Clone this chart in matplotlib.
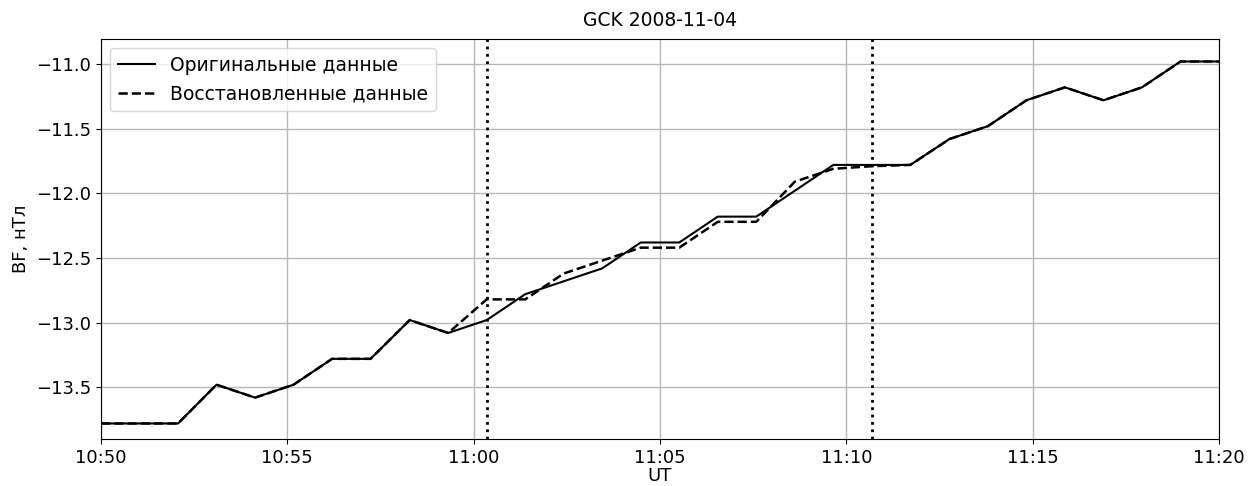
import matplotlib
matplotlib.use("Agg")
import matplotlib.pyplot as plt
import matplotlib.dates as mdates
import numpy as np
from datetime import datetime

plt.rcParams["font.size"] = 13

# Моменты измерений (UT), 2008-11-04
times_str = ["10:50:00", "10:51:02", "10:52:04", "10:53:06", "10:54:08", "10:55:10",
             "10:56:12", "10:57:14", "10:58:17", "10:59:19", "11:00:21", "11:01:23",
             "11:02:25", "11:03:27", "11:04:29", "11:05:31", "11:06:33", "11:07:35",
             "11:08:37", "11:09:39", "11:10:41", "11:11:43", "11:12:46", "11:13:48",
             "11:14:50", "11:15:52", "11:16:54", "11:17:56", "11:18:58", "11:20:00"]

# Исходные данные BF, нТл
bf_orig = [-13.78, -13.78, -13.78, -13.48, -13.58, -13.48, -13.28, -13.28, -12.98, -13.08,
           -12.98, -12.78, -12.68, -12.58, -12.38, -12.38, -12.18, -12.18, -11.98, -11.78,
           -11.78, -11.78, -11.58, -11.48, -11.28, -11.18, -11.28, -11.18, -10.98, -10.98]

# Восстановленные данные BF, нТл
bf_rest = [-13.78, -13.78, -13.78, -13.48, -13.58, -13.48, -13.28, -13.28, -12.98, -13.08,
           -12.82, -12.82, -12.62, -12.52, -12.42, -12.42, -12.22, -12.22, -11.91, -11.81,
           -11.79, -11.78, -11.58, -11.48, -11.28, -11.18, -11.28, -11.18, -10.98, -10.98]

# Границы пропуска
gap_str = ["11:00:21", "11:10:41"]

t = [datetime.strptime("2008-11-04 " + s, "%Y-%m-%d %H:%M:%S") for s in times_str]
gap = [datetime.strptime("2008-11-04 " + s, "%Y-%m-%d %H:%M:%S") for s in gap_str]

fig = plt.figure(figsize=(12.49, 4.86), dpi=100)
ax = fig.add_axes([101 / 1249, 1 - 439 / 486, (1219 - 101) / 1249, 400 / 486])

ax.plot(t, bf_orig, color="black", lw=1.5, label="Оригинальные данные", zorder=3)
ax.plot(t, bf_rest, color="black", lw=1.8, linestyle="--", label="Восстановленные данные",
        zorder=2)
for g in gap:
    ax.axvline(g, color="black", linestyle=":", lw=2, zorder=4)

ax.set_xlim(t[0], t[-1])
ax.set_ylim(-13.90, -10.806)
ax.xaxis.set_major_locator(mdates.MinuteLocator(byminute=range(0, 60, 5)))
ax.xaxis.set_major_formatter(mdates.DateFormatter("%H:%M"))
ax.grid(True, color="#b8b8b8", lw=1)

ax.set_xlabel("UT", labelpad=0)
ax.set_ylabel("BF, нТл")
ax.set_title("GCK 2008-11-04", fontsize=13.5, pad=9)
ax.legend(loc="upper left", fontsize=13.5)

fig.savefig("out.png", dpi=100)
